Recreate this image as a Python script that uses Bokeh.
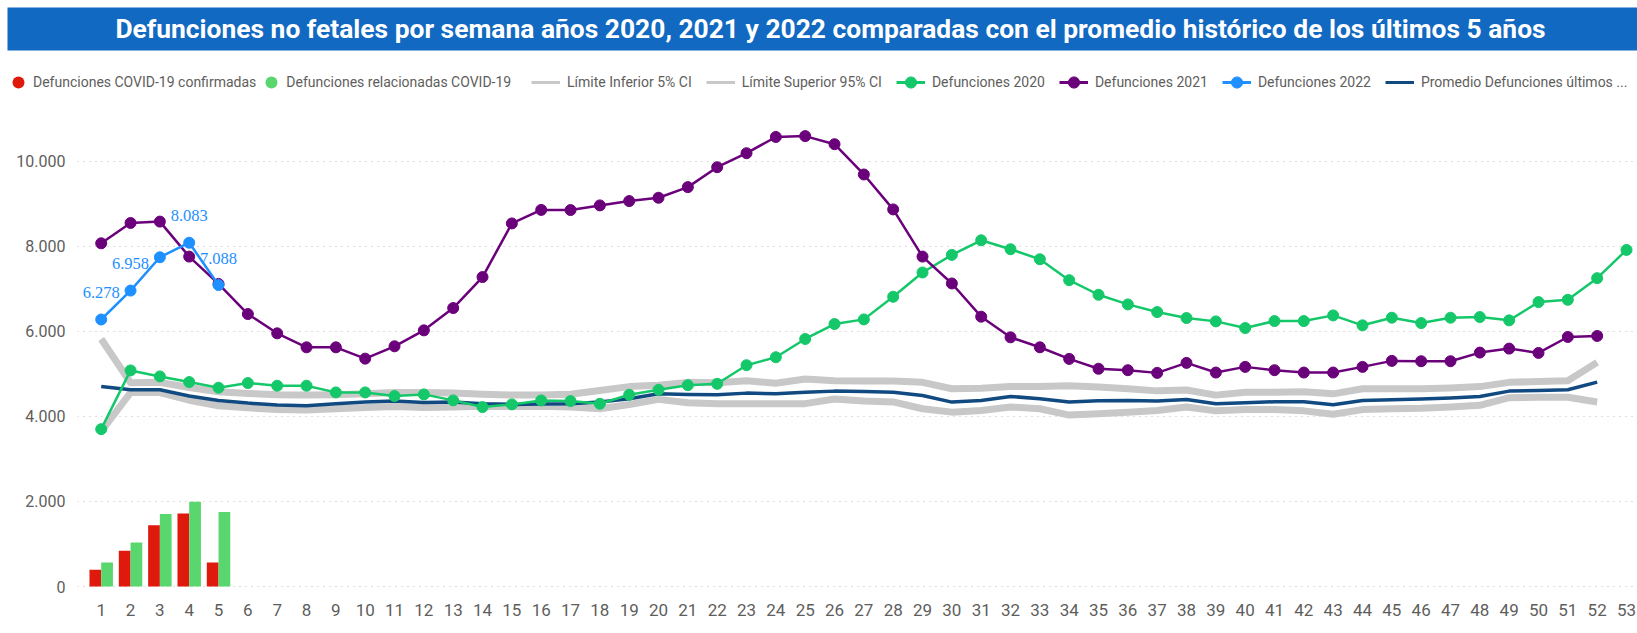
from bokeh.plotting import figure
from bokeh.models import (ColumnDataSource, FixedTicker, Legend, LegendItem, Label, LabelSet,
                          Range1d, BoxAnnotation)
from bokeh.layouts import column
from bokeh.transform import dodge
from bokeh.embed import file_html
from bokeh.resources import INLINE

FONT = "Roboto"

weeks = list(range(1, 54))
y_ticks = [0, 2000, 4000, 6000, 8000, 10000]
y_tick_labels = ["0", "2.000", "4.000", "6.000", "8.000", "10.000"]

d2020 = [3700, 5081, 4940, 4807, 4674, 4784, 4721, 4721, 4564, 4564,
         4478, 4517, 4376, 4219, 4282, 4375, 4359, 4297, 4508, 4625,
         4734, 4766, 5203, 5391, 5820, 6172, 6281, 6813, 7383, 7797,
         8141, 7930, 7695, 7203, 6860, 6633, 6453, 6313, 6234, 6078,
         6242, 6242, 6375, 6141, 6320, 6195, 6320, 6336, 6258, 6688,
         6742, 7250, 7914]
d2021 = [8070, 8548, 8580, 7757, 7115, 6407, 5953, 5624, 5624, 5358,
         5648, 6023, 6548, 7276, 8537, 8855, 8852, 8961, 9063, 9141,
         9391, 9859, 10188, 10570, 10590, 10400, 9688, 8867, 7758, 7125,
         6344, 5859, 5625, 5352, 5120, 5086, 5023, 5258, 5031, 5164,
         5086, 5031, 5031, 5164, 5305, 5297, 5297, 5500, 5594, 5492,
         5867, 5891]
d2022 = [6278, 6958, 7742, 8083, 7088]
d2022_labels = ["6.278", "6.958", "", "8.083", "7.088"]
avg5 = [4705, 4626, 4626, 4478, 4376, 4313, 4266, 4250, 4297, 4337,
        4360, 4329, 4337, 4297, 4282, 4290, 4297, 4336, 4414, 4531,
        4516, 4508, 4547, 4531, 4570, 4594, 4586, 4570, 4492, 4336,
        4375, 4469, 4414, 4336, 4367, 4375, 4359, 4398, 4297, 4320,
        4344, 4344, 4273, 4375, 4391, 4406, 4430, 4469, 4594, 4609,
        4625, 4805]
lower5 = [3650, 4560, 4560, 4380, 4250, 4200, 4160, 4150, 4180, 4210,
          4230, 4210, 4220, 4240, 4230, 4240, 4220, 4180, 4280, 4400,
          4320, 4300, 4300, 4300, 4300, 4410, 4360, 4340, 4180, 4100,
          4140, 4220, 4180, 4030, 4060, 4100, 4140, 4220, 4130, 4160,
          4160, 4130, 4050, 4160, 4180, 4190, 4220, 4260, 4440, 4450,
          4450, 4340]
upper95 = [5820, 4790, 4800, 4680, 4580, 4540, 4510, 4500, 4510, 4530,
           4560, 4560, 4550, 4520, 4500, 4500, 4520, 4610, 4700, 4730,
           4800, 4790, 4840, 4780, 4880, 4840, 4830, 4830, 4800, 4650,
           4660, 4700, 4700, 4720, 4690, 4650, 4600, 4620, 4500, 4570,
           4570, 4580, 4530, 4650, 4650, 4650, 4670, 4700, 4800, 4820,
           4840, 5270]
bar_weeks = [1, 2, 3, 4, 5]
covid_conf = [392, 839, 1443, 1718, 565]
covid_rel = [565, 1035, 1702, 1992, 1749]

legend_labels = ["Defunciones COVID-19 confirmadas", "Defunciones relacionadas COVID-19",
                 "Límite Inferior 5% CI", "Límite Superior 95% CI",
                 "Defunciones 2020", "Defunciones 2021", "Defunciones 2022",
                 "Promedio Defunciones últimos ..."]

C_TITLE = "#1169C1"
C_RED = "#E0190D"
C_LGREEN = "#5AD66E"
C_GRAY = "#C8C8C8"
C_G20 = "#14C86A"
C_P21 = "#6B007B"
C_B22 = "#1E90FF"
C_NAVY = "#114A80"
C_TXT = "#605E5C"

W = 1637
TOP_H = 105

# ---------- header: title bar + legend ----------
t = figure(width=W, height=TOP_H, x_range=Range1d(0, W), y_range=Range1d(0, TOP_H),
           output_backend="svg", toolbar_location=None,
           x_axis_location=None, y_axis_location=None,
           min_border=0, min_border_left=0, min_border_right=0, min_border_top=0, min_border_bottom=0,
           background_fill_color="white", border_fill_color="white", outline_line_color=None)
t.frame_align = False
t.grid.visible = False
t.add_layout(BoxAnnotation(left=7, right=W, top=TOP_H - 7, bottom=TOP_H - 50,
                           fill_color=C_TITLE, fill_alpha=1, line_color=None))
t.add_layout(Label(x=830, y=TOP_H - 28.5,
                   text="Defunciones no fetales por semana años 2020, 2021 y 2022 comparadas con el promedio histórico de los últimos 5 años",
                   text_color="white", text_font=FONT, text_font_size="26.4px",
                   text_font_style="bold", text_align="center", text_baseline="middle"))

# legend swatches: proxies holding a single NaN point (nothing drawn in the plot)
nan_src = ColumnDataSource(dict(x=[float("nan")], y=[float("nan")]))
px_conf = t.scatter("x", "y", source=nan_src, size=12, fill_color=C_RED, line_color=None)
px_rel = t.scatter("x", "y", source=nan_src, size=12, fill_color=C_LGREEN, line_color=None)
px_lo = t.line("x", "y", source=nan_src, line_color=C_GRAY, line_width=3)
px_up = t.line("x", "y", source=nan_src, line_color=C_GRAY, line_width=3)
px_20l = t.line("x", "y", source=nan_src, line_color=C_G20, line_width=3)
px_20s = t.scatter("x", "y", source=nan_src, size=11, fill_color=C_G20, line_color=C_G20)
px_21l = t.line("x", "y", source=nan_src, line_color=C_P21, line_width=3)
px_21s = t.scatter("x", "y", source=nan_src, size=11, fill_color=C_P21, line_color=C_P21)
px_22l = t.line("x", "y", source=nan_src, line_color=C_B22, line_width=3)
px_22s = t.scatter("x", "y", source=nan_src, size=11, fill_color=C_B22, line_color=C_B22)
px_avg = t.line("x", "y", source=nan_src, line_color=C_NAVY, line_width=3)

legend_renderers = [[px_conf], [px_rel], [px_lo], [px_up], [px_20l, px_20s],
                    [px_21l, px_21s], [px_22l, px_22s], [px_avg]]
items = [LegendItem(label=lab, renderers=rs) for lab, rs in zip(legend_labels, legend_renderers)]

LEG_CY = TOP_H - 81.5   # legend centre line, measured from the header's bottom
common = dict(orientation="horizontal", padding=0, margin=0,
              label_text_font=FONT, label_text_color=C_TXT,
              background_fill_alpha=0, border_line_color=None)
leg_a = Legend(items=items[:2], location=(3, LEG_CY - 15), spacing=-4, glyph_width=30,
               glyph_height=30, label_standoff=-5, label_text_font_size="14px", **common)
leg_b = Legend(items=items[2:], location=(531, LEG_CY - 14), spacing=14, glyph_width=29,
               glyph_height=28, label_standoff=7, label_text_font_size="14px", **common)
t.add_layout(leg_a, "center")
t.add_layout(leg_b, "center")

# ---------- chart ----------
H = 633 - TOP_H
p = figure(width=W, height=H, output_backend="svg", toolbar_location=None,
           x_range=Range1d(0.192, 53.375), y_range=Range1d(-94, 11310),
           min_border_left=77, min_border_right=0, min_border_top=0, min_border_bottom=43,
           outline_line_color=None, background_fill_color="white", border_fill_color="white")
p.frame_align = False
p.xgrid.visible = False
p.ygrid.grid_line_color = "#BDBDBD"
p.ygrid.grid_line_dash = "1 5"
p.ygrid.grid_line_width = 1
p.ygrid.ticker = FixedTicker(ticks=y_ticks)

p.yaxis.ticker = FixedTicker(ticks=y_ticks)
p.yaxis.major_label_overrides = {v: s for v, s in zip(y_ticks, y_tick_labels)}
p.xaxis.ticker = FixedTicker(ticks=weeks)
p.xaxis.major_label_overrides = {w: str(w) for w in weeks}
for ax in (p.xaxis, p.yaxis):
    ax.axis_line_color = None
    ax.major_tick_line_color = None
    ax.minor_tick_line_color = None
    ax.major_tick_out = 0
    ax.major_tick_in = 0
    ax.major_label_text_color = C_TXT
    ax.major_label_text_font = FONT
p.yaxis.major_label_text_font_size = "16px"
p.yaxis.major_label_standoff = 12
p.xaxis.major_label_text_font_size = "17px"
p.xaxis.major_label_standoff = 13

src_lines = ColumnDataSource(dict(w=weeks[:52], lo=lower5, up=upper95, avg=avg5, d21=d2021))
src20 = ColumnDataSource(dict(w=weeks, v=d2020))
src22 = ColumnDataSource(dict(w=weeks[:5], v=d2022, lab=d2022_labels))
srcb = ColumnDataSource(dict(w=bar_weeks, conf=covid_conf, rel=covid_rel))

p.line("w", "lo", source=src_lines, line_color=C_GRAY, line_width=7, line_join="round")
p.line("w", "up", source=src_lines, line_color=C_GRAY, line_width=7, line_join="round")
p.line("w", "avg", source=src_lines, line_color=C_NAVY, line_width=3.5, line_join="round")

p.vbar(x=dodge("w", -0.2, range=p.x_range), top="conf", width=0.4, source=srcb,
       fill_color=C_RED, line_color=None)
p.vbar(x=dodge("w", 0.2, range=p.x_range), top="rel", width=0.4, source=srcb,
       fill_color=C_LGREEN, line_color=None)

p.line("w", "v", source=src20, line_color=C_G20, line_width=2.5)
p.scatter("w", "v", source=src20, size=11, fill_color=C_G20, line_color=C_G20)
p.line("w", "d21", source=src_lines, line_color=C_P21, line_width=2.5)
p.scatter("w", "d21", source=src_lines, size=11, fill_color=C_P21, line_color=C_P21)
p.line("w", "v", source=src22, line_color=C_B22, line_width=2.5)
p.scatter("w", "v", source=src22, size=11, fill_color=C_B22, line_color=C_B22)

p.add_layout(LabelSet(x="w", y="v", text="lab", source=src22, y_offset=27,
                      text_align="center", text_baseline="middle", text_color=C_B22,
                      text_font=FONT, text_font_size="16.5px"))

layout = column(t, p, spacing=0)
open("out.html", "w").write(file_html(layout, INLINE))
